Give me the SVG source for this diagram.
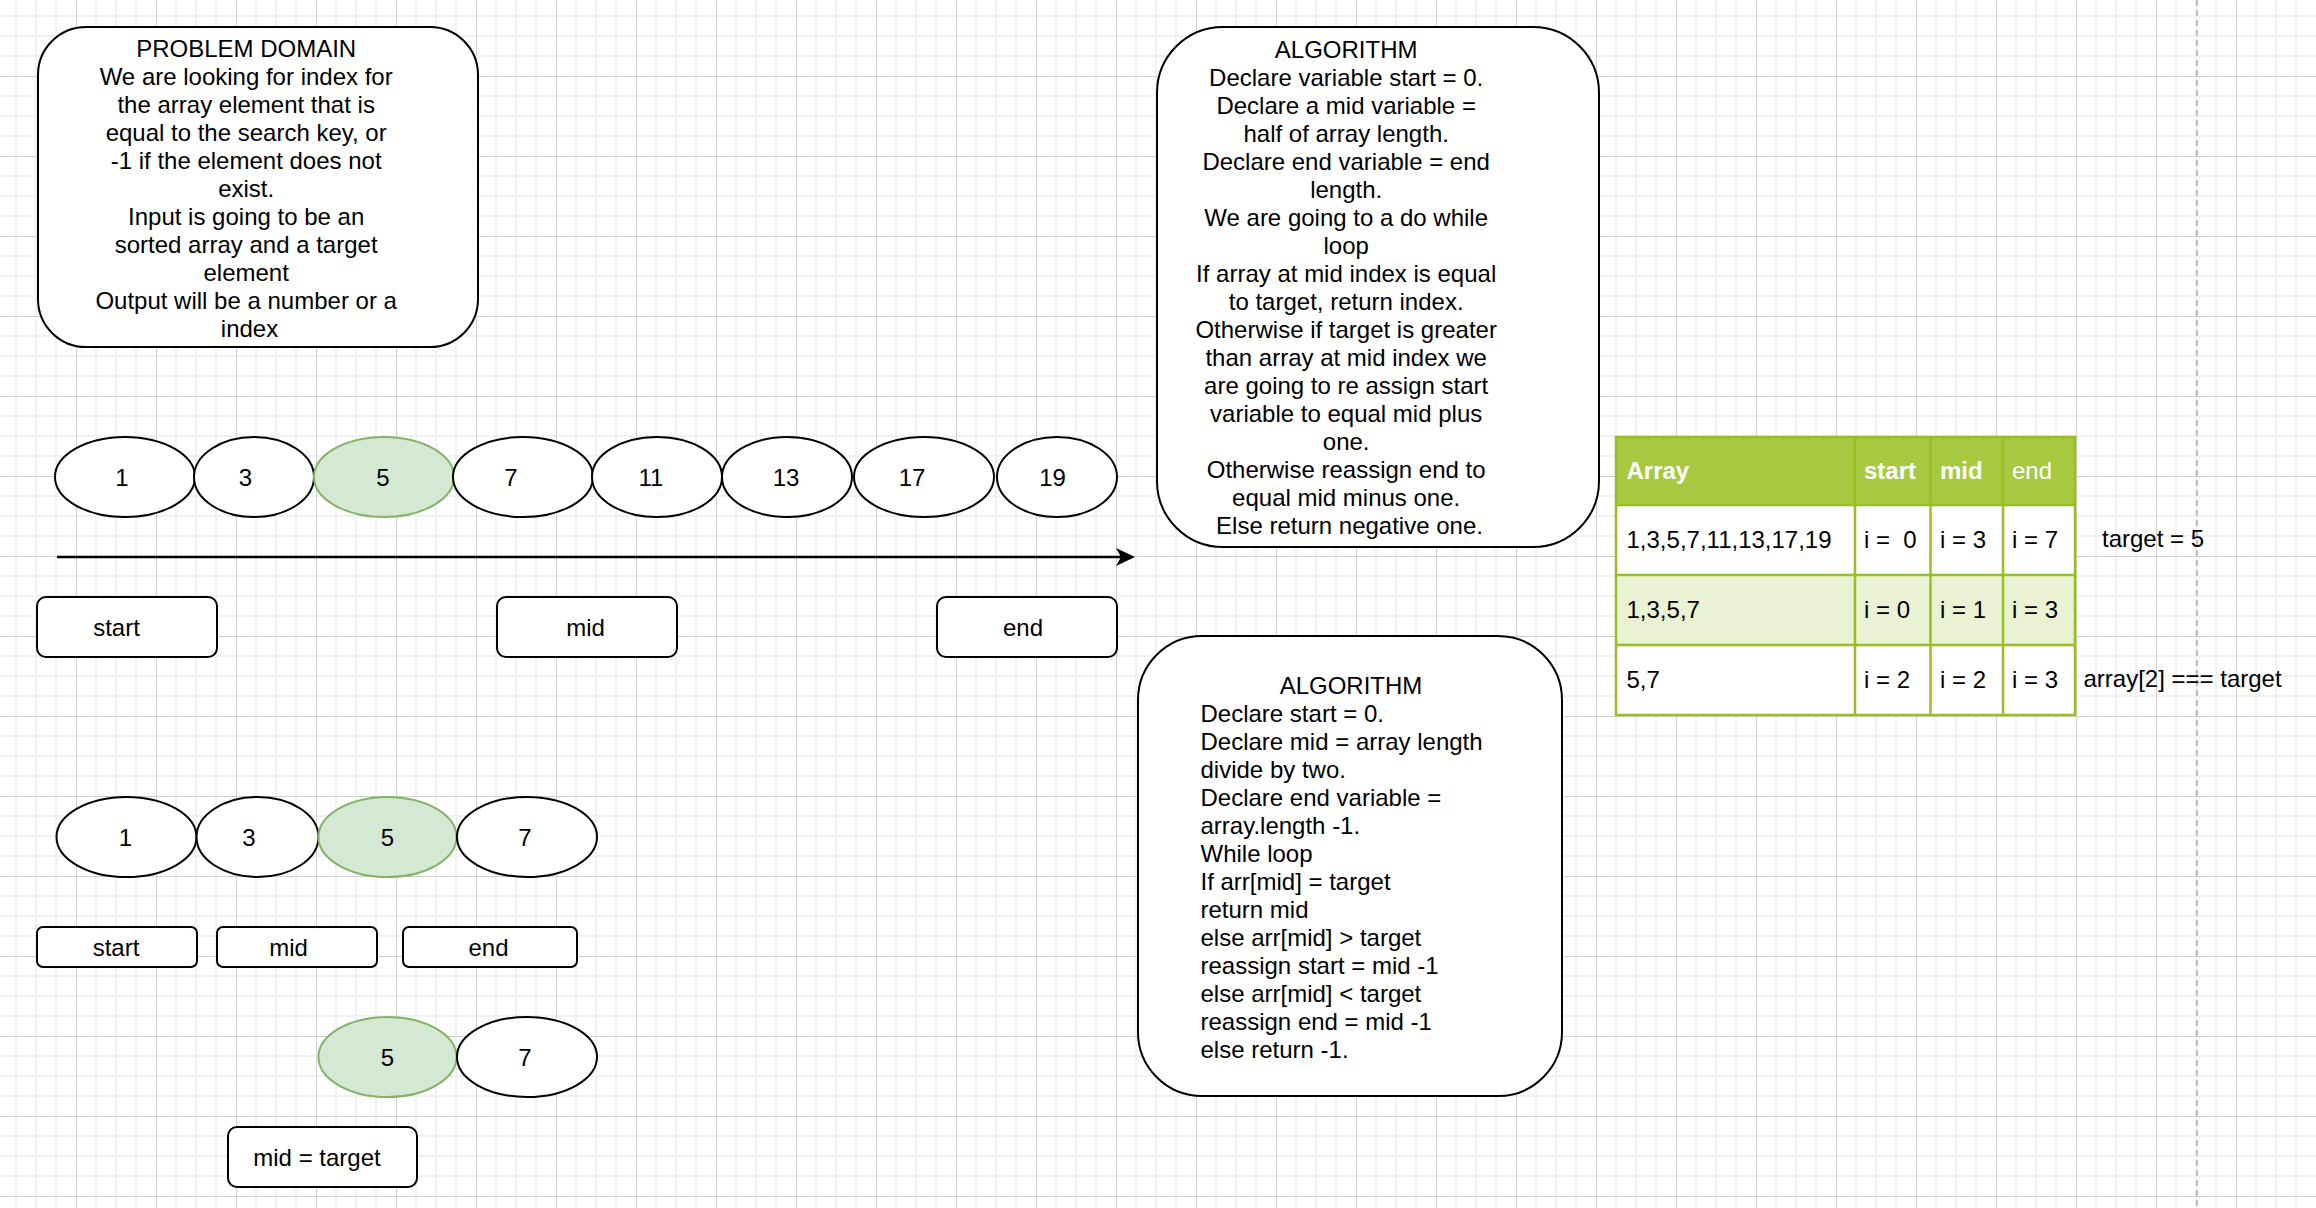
<svg xmlns="http://www.w3.org/2000/svg" width="2316" height="1208" viewBox="0 0 2316 1208">
<style>
.t{font-family:"Liberation Sans",Arial,Helvetica,sans-serif;font-size:24px;fill:#000}
.c{text-anchor:middle}
.b{font-weight:bold;fill:#fff}
.w{fill:#fff}
.box{fill:#fff;stroke:#000;stroke-width:2}
.green{fill:#d5e8d4;stroke:#82b366;stroke-width:2}
.edge{fill:none;stroke:#000;stroke-width:2.3}
</style>
<defs>
<pattern id="grid" x="-4" y="-4" width="80" height="80" patternUnits="userSpaceOnUse">
<path d="M20 0V80M40 0V80M60 0V80M0 20H80M0 40H80M0 60H80" stroke="#f1f1f1" stroke-width="2" fill="none"/>
<path d="M0.5 0V80M0 0.5H80" stroke="#d0d0d0" stroke-width="1" fill="none"/>
</pattern>
<marker id="arrow" markerUnits="userSpaceOnUse" markerWidth="20" markerHeight="20" viewBox="0 0 20 20" refX="14" refY="10" orient="auto">
<path d="M0 1 L19 10 L0 19 L5 10 Z" fill="#000"/>
</marker>
</defs>
<rect x="0" y="0" width="2316" height="1208" fill="#fff"/>
<rect x="0" y="0" width="2316" height="1208" fill="url(#grid)"/>
<line x1="2197" y1="0" x2="2197" y2="1208" stroke="#bdbdbd" stroke-width="2" stroke-dasharray="6 4"/>

<g id="problem-domain">
<rect class="box" x="38" y="27" width="440" height="320" rx="48"/>
<text class="t c" x="249.5">
<tspan x="249.5" y="56.5">PROBLEM DOMAIN</tspan>
<tspan x="249.5" y="84.5">We are looking for index for</tspan>
<tspan x="249.5" y="112.5">the array element that is</tspan>
<tspan x="249.5" y="140.5">equal to the search key, or</tspan>
<tspan x="249.5" y="168.5">-1 if the element does not</tspan>
<tspan x="249.5" y="196.5">exist.</tspan>
<tspan x="249.5" y="224.5">Input is going to be an</tspan>
<tspan x="249.5" y="252.5">sorted array and a target</tspan>
<tspan x="249.5" y="280.5">element</tspan>
<tspan x="249.5" y="308.5">Output will be a number or a</tspan>
<tspan x="249.5" y="336.5">index</tspan>
</text>
</g>

<g id="algorithm-1">
<rect class="box" x="1157" y="27" width="442" height="520" rx="66"/>
<text class="t c">
<tspan x="1349.5" y="57.5">ALGORITHM</tspan>
<tspan x="1349.5" y="85.5">Declare variable start = 0.</tspan>
<tspan x="1349.5" y="113.5">Declare a mid variable =</tspan>
<tspan x="1349.5" y="141.5">half of array length.</tspan>
<tspan x="1349.5" y="169.5">Declare end variable = end</tspan>
<tspan x="1349.5" y="197.5">length.</tspan>
<tspan x="1349.5" y="225.5">We are going to a do while</tspan>
<tspan x="1349.5" y="253.5">loop</tspan>
<tspan x="1349.5" y="281.5">If array at mid index is equal</tspan>
<tspan x="1349.5" y="309.5">to target, return index.</tspan>
<tspan x="1349.5" y="337.5">Otherwise if target is greater</tspan>
<tspan x="1349.5" y="365.5">than array at mid index we</tspan>
<tspan x="1349.5" y="393.5">are going to re assign start</tspan>
<tspan x="1349.5" y="421.5">variable to equal mid plus</tspan>
<tspan x="1349.5" y="449.5">one.</tspan>
<tspan x="1349.5" y="477.5">Otherwise reassign end to</tspan>
<tspan x="1349.5" y="505.5">equal mid minus one.</tspan>
<tspan x="1349.5" y="533.5">Else return negative one.</tspan>
</text>
</g>

<g id="algorithm-2">
<rect class="box" x="1138" y="636" width="424" height="460" rx="64"/>
<text class="t c" x="1351" y="694">ALGORITHM</text>
<text class="t">
<tspan x="1200.5" y="722">Declare start = 0.</tspan>
<tspan x="1200.5" y="750">Declare mid = array length</tspan>
<tspan x="1200.5" y="778">divide by two.</tspan>
<tspan x="1200.5" y="806">Declare end variable =</tspan>
<tspan x="1200.5" y="834">array.length -1.</tspan>
<tspan x="1200.5" y="862">While loop</tspan>
<tspan x="1200.5" y="890">If arr[mid] = target</tspan>
<tspan x="1200.5" y="918">return mid</tspan>
<tspan x="1200.5" y="946">else arr[mid] &gt; target</tspan>
<tspan x="1200.5" y="974">reassign start = mid -1</tspan>
<tspan x="1200.5" y="1002">else arr[mid] &lt; target</tspan>
<tspan x="1200.5" y="1030">reassign end = mid -1</tspan>
<tspan x="1200.5" y="1058">else return -1.</tspan>
</text>
</g>

<g id="r1-n1"><ellipse class="box" cx="125" cy="477" rx="70" ry="40"/><text class="t c" x="122" y="486">1</text></g>
<g id="r1-n3"><ellipse class="box" cx="254" cy="477" rx="60" ry="40"/><text class="t c" x="245.5" y="486">3</text></g>
<g id="r1-n5"><ellipse class="green" cx="384" cy="477" rx="70" ry="40"/><text class="t c" x="383" y="486">5</text></g>
<g id="r1-n7"><ellipse class="box" cx="523" cy="477" rx="70" ry="40"/><text class="t c" x="511" y="486">7</text></g>
<g id="r1-n11"><ellipse class="box" cx="657" cy="477" rx="65" ry="40"/><text class="t c" x="651" y="486">11</text></g>
<g id="r1-n13"><ellipse class="box" cx="787" cy="477" rx="65" ry="40"/><text class="t c" x="786" y="486">13</text></g>
<g id="r1-n17"><ellipse class="box" cx="924" cy="477" rx="70" ry="40"/><text class="t c" x="912" y="486">17</text></g>
<g id="r1-n19"><ellipse class="box" cx="1057" cy="477" rx="60" ry="40"/><text class="t c" x="1052.5" y="486">19</text></g>

<g id="r1-start"><rect class="box" x="37" y="597" width="180" height="60" rx="9"/><text class="t c" x="116.5" y="636">start</text></g>
<g id="r1-mid"><rect class="box" x="497" y="597" width="180" height="60" rx="9"/><text class="t c" x="585.5" y="636">mid</text></g>
<g id="r1-end"><rect class="box" x="937" y="597" width="180" height="60" rx="9"/><text class="t c" x="1023" y="636">end</text></g>

<g id="r2-n1"><ellipse class="box" cx="126.5" cy="837" rx="70" ry="40"/><text class="t c" x="125.5" y="846">1</text></g>
<g id="r2-n3"><ellipse class="box" cx="257.5" cy="837" rx="61" ry="40"/><text class="t c" x="249" y="846">3</text></g>
<g id="r2-n5"><ellipse class="green" cx="387.5" cy="837" rx="69" ry="40"/><text class="t c" x="387.5" y="846">5</text></g>
<g id="r2-n7"><ellipse class="box" cx="527" cy="837" rx="70" ry="40"/><text class="t c" x="525" y="846">7</text></g>

<g id="r2-start"><rect class="box" x="37" y="927" width="160" height="40" rx="6"/><text class="t c" x="116" y="956">start</text></g>
<g id="r2-mid"><rect class="box" x="217" y="927" width="160" height="40" rx="6"/><text class="t c" x="288.5" y="956">mid</text></g>
<g id="r2-end"><rect class="box" x="403" y="927" width="174" height="40" rx="6"/><text class="t c" x="488.5" y="956">end</text></g>

<g id="r3-n5"><ellipse class="green" cx="387.5" cy="1057" rx="69" ry="40"/><text class="t c" x="387.5" y="1066">5</text></g>
<g id="r3-n7"><ellipse class="box" cx="527" cy="1057" rx="70" ry="40"/><text class="t c" x="525" y="1066">7</text></g>

<g id="mid-target"><rect class="box" x="228" y="1127" width="189" height="60" rx="9"/><text class="t c" x="317" y="1165.5">mid = target</text></g>

<g id="table">
<rect x="1616" y="437" width="459" height="68" fill="#a7c942"/>
<rect x="1616" y="505" width="459" height="70" fill="#fff"/>
<rect x="1616" y="575" width="459" height="70" fill="#eaf2d3"/>
<rect x="1616" y="645" width="459" height="70" fill="#fff"/>
<path d="M1616 437H2075V715H1616Z M1616 505H2075 M1616 575H2075 M1616 645H2075 M1855 437V715 M1930.5 437V715 M2003 437V715" stroke="#98bf21" stroke-width="2.5" fill="none"/>
<text class="t b" x="1626.5" y="478.5">Array</text>
<text class="t b" x="1864" y="478.5">start</text>
<text class="t b" x="1940" y="478.5">mid</text>
<text class="t w" x="2012" y="478.5">end</text>
<text class="t" x="1626.5" y="548">1,3,5,7,11,13,17,19</text>
<text class="t" x="1864" y="548" xml:space="preserve">i =  0</text>
<text class="t" x="1940" y="548">i = 3</text>
<text class="t" x="2012" y="548">i = 7</text>
<text class="t" x="1626.5" y="618">1,3,5,7</text>
<text class="t" x="1864" y="618">i = 0</text>
<text class="t" x="1940" y="618">i = 1</text>
<text class="t" x="2012" y="618">i = 3</text>
<text class="t" x="1626.5" y="688">5,7</text>
<text class="t" x="1864" y="688">i = 2</text>
<text class="t" x="1940" y="688">i = 2</text>
<text class="t" x="2012" y="688">i = 3</text>
</g>

<g id="note-target"><text class="t" x="2102" y="546.5">target = 5</text></g>
<g id="note-array"><text class="t" x="2083.5" y="687">array[2] === target</text></g>

<g id="connectors">
<line class="edge" x1="57" y1="557" x2="1130" y2="557" marker-end="url(#arrow)"/>
</g>
</svg>
